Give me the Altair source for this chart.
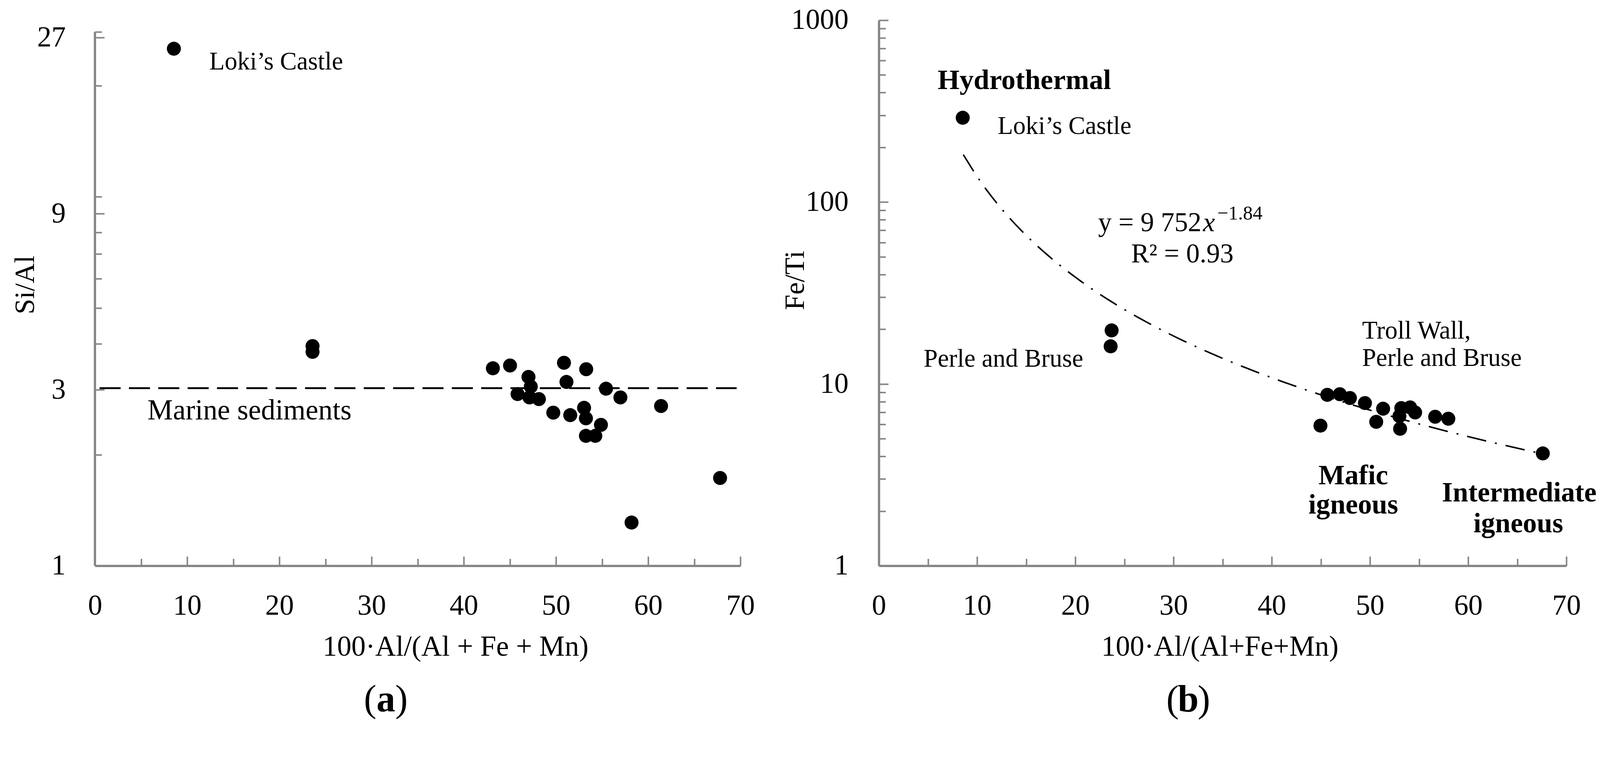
import altair as alt
import pandas as pd

FONT = "Liberation Serif"
AXIS_GREY = "#858585"

# ---- panel (a): Si/Al against 100*Al/(Al+Fe+Mn) ----
a_x = [8.56, 23.6, 23.6, 43.16, 45.02, 47.02, 47.27, 45.84, 47.13, 48.15, 50.87, 53.28,
       51.14, 55.43, 56.99, 49.71, 51.55, 53.05, 53.25, 54.88, 53.25, 54.27, 61.4, 67.8, 58.2]
a_y = [25.2, 3.94, 3.80, 3.43, 3.49, 3.25, 3.06, 2.92, 2.86, 2.83, 3.55, 3.41,
       3.15, 3.02, 2.86, 2.60, 2.56, 2.68, 2.51, 2.41, 2.25, 2.25, 2.71, 1.73, 1.31]
marine_si_al = 3.03
marine_x = [0.5, 69.6]

# ---- panel (b): Fe/Ti against 100*Al/(Al+Fe+Mn) ----
b_x = [8.54, 23.7, 23.6, 44.96, 45.66, 46.93, 47.96, 49.49, 51.34, 50.64, 53.19, 54.6,
       53.07, 53.0, 54.09, 56.64, 57.98, 67.6]
b_y = [291, 19.7, 16.1, 5.90, 8.71, 8.78, 8.37, 7.85, 7.31, 6.19, 7.37, 6.97,
       5.67, 6.65, 7.43, 6.60, 6.44, 4.15]
fit_extent = [8.6, 67.0]

# axis values
x_labels = [0, 10, 20, 30, 40, 50, 60, 70]
x_ticks = [5, 10, 15, 20, 25, 30, 35, 40, 45, 50, 55, 60, 65, 70]
a_y_labels = [1, 3, 9, 27]
a_y_ticks = [1, 2, 3, 4, 5, 6, 7, 8, 9, 10, 20, 27, 28]
a_y_top = 28
a_y_max = 30.1
b_y_labels = [1, 10, 100, 1000]
b_y_ticks = [1, 2, 3, 4, 5, 6, 7, 8, 9, 10, 20, 30, 40, 50, 60, 70, 80, 90,
             100, 200, 300, 400, 500, 600, 700, 800, 900, 1000]

# annotations
a_notes = pd.DataFrame({"x": [12.4], "y": [23.2], "t": ["Loki’s Castle"]})
a_marine_note = pd.DataFrame({"x": [5.7], "y": [2.63], "t": ["Marine sediments"]})
b_notes = pd.DataFrame({"x": [12.1, 4.56, 49.2, 49.2],
                        "y": [260.7, 13.7, 19.5, 13.8],
                        "t": ["Loki’s Castle", "Perle and Bruse", "Troll Wall,", "Perle and Bruse"]})
b_hydro = pd.DataFrame({"x": [5.98], "y": [466], "t": ["Hydrothermal"]})
b_rocks = pd.DataFrame({"x": [48.3, 48.3, 65.2, 65.1],
                        "y": [3.125, 2.154, 2.51, 1.70],
                        "t": ["Mafic", "igneous", "Intermediate", "igneous"]})
eq_pos = pd.DataFrame({"x": [33.0], "y": [76.9]})
r2_note = pd.DataFrame({"x": [30.9], "y": [51.8], "t": ["R² = 0.93"]})
a_caption = pd.DataFrame({"x": [31.55], "y": [0.433]})
b_caption = pd.DataFrame({"x": [31.5], "y": [0.182]})

W_A, W_B, H = 1715, 1827, 1450


def label_axis_x(title, title_x):
    return alt.Axis(values=x_labels, ticks=False, tickSize=0, domainColor=AXIS_GREY, domainWidth=6,
                    labelFont=FONT, labelFontSize=76, labelColor="black", labelPadding=106,
                    labelBaseline="middle", labelFlush=False, labelOverlap=False, grid=False,
                    title=title, titleFont=FONT, titleFontSize=76, titleFontWeight="normal",
                    titleColor="black", titleX=title_x, titleY=216, titleBaseline="middle")


def label_axis_y(values, title, title_x, title_y, pad, domain):
    return alt.Axis(values=values, labelExpr="'' + datum.value", ticks=False, tickSize=0,
                    domain=domain, domainColor=AXIS_GREY, domainWidth=6,
                    labelFont=FONT, labelFontSize=76, labelColor="black", labelPadding=pad,
                    labelBaseline="middle", labelFlush=False, labelOverlap=False, grid=False,
                    title=title, titleFont=FONT, titleFontSize=74, titleFontWeight="normal",
                    titleColor="black", titleX=title_x, titleY=title_y, titleAngle=270,
                    titleBaseline="middle", titleAlign="center")


def tick_axis_x():
    # ticks pointing into the plot, Excel style
    return alt.Axis(orient="top", offset=-H, values=x_ticks, labels=False, domain=False, grid=False,
                    tickColor=AXIS_GREY, tickWidth=4, title=None,
                    tickSize={"condition": {"test": "datum.value % 10 == 0", "value": 25}, "value": 19})


def tick_axis_y(width, values, majors):
    test = "indexof(" + str(majors) + ", datum.value) >= 0"
    return alt.Axis(orient="right", offset=-width, values=values, labels=False, domain=False, grid=False,
                    tickColor=AXIS_GREY, tickWidth=4, title=None,
                    tickSize={"condition": {"test": test, "value": 25}, "value": 18})


def notes(df, xs, ys, size, weight="normal", align="left", style="normal"):
    return alt.Chart(df).mark_text(font=FONT, fontSize=size, fontWeight=weight, fontStyle=style,
                                   align=align, baseline="middle", color="black").encode(
        x=alt.X("x:Q", scale=xs, axis=None),
        y=alt.Y("y:Q", scale=ys, axis=None),
        text="t:N")


def caption(df, letter, xs, ys):
    base = alt.Chart(df).encode(x=alt.X("x:Q", scale=xs, axis=None), y=alt.Y("y:Q", scale=ys, axis=None))
    return [
        base.mark_text(text="(", font=FONT, fontSize=100, align="right", baseline="middle", dx=-25, color="black"),
        base.mark_text(text=letter, font=FONT, fontSize=100, fontWeight="bold", align="center",
                       baseline="middle", color="black"),
        base.mark_text(text=")", font=FONT, fontSize=100, align="left", baseline="middle", dx=25, color="black"),
    ]


# ---------- panel (a) ----------
xs_a = alt.Scale(domain=[0, 70], nice=False, zero=False)
ys_a = alt.Scale(type="log", domain=[1, a_y_max], nice=False)
a_df = pd.DataFrame({"x": a_x, "y": a_y})

a_points = alt.Chart(a_df).mark_circle(size=1385, color="black", opacity=1).encode(
    x=alt.X("x:Q", scale=xs_a, axis=label_axis_x("100·Al/(Al + Fe + Mn)", 958)),
    y=alt.Y("y:Q", scale=ys_a, axis=label_axis_y(a_y_labels, "Si/Al", -185, 703, 78, False)))
a_tick_layer = alt.Chart(a_df).mark_point(opacity=0).encode(
    x=alt.X("x:Q", scale=xs_a, axis=tick_axis_x()),
    y=alt.Y("y:Q", scale=ys_a, axis=tick_axis_y(W_A, a_y_ticks, a_y_labels)))
a_yline = alt.Chart(pd.DataFrame({"x": [0], "y": [1], "y2": [a_y_top]})).mark_rule(
    color=AXIS_GREY, strokeWidth=6).encode(
    x=alt.X("x:Q", scale=xs_a, axis=None), y=alt.Y("y:Q", scale=ys_a, axis=None), y2="y2:Q")
a_marine = alt.Chart(pd.DataFrame({"x": [marine_x[0]], "x2": [marine_x[1]], "y": [marine_si_al]})).mark_rule(
    color="black", strokeWidth=5, strokeDash=[56, 22]).encode(
    x=alt.X("x:Q", scale=xs_a, axis=None), x2="x2:Q", y=alt.Y("y:Q", scale=ys_a, axis=None))

left = alt.layer(
    a_yline, a_marine, a_points, a_tick_layer,
    notes(a_notes, xs_a, ys_a, 67),
    notes(a_marine_note, xs_a, ys_a, 76),
    *caption(a_caption, "a", xs_a, ys_a)
).resolve_axis(x="independent", y="independent").properties(width=W_A, height=H)

# ---------- panel (b) ----------
xs_b = alt.Scale(domain=[0, 70], nice=False, zero=False)
ys_b = alt.Scale(type="log", domain=[1, 1000], nice=False)
b_df = pd.DataFrame({"x": b_x, "y": b_y})

b_points = alt.Chart(b_df).mark_circle(size=1385, color="black", opacity=1).encode(
    x=alt.X("x:Q", scale=xs_b, axis=label_axis_x("100·Al/(Al+Fe+Mn)", 906)),
    y=alt.Y("y:Q", scale=ys_b, axis=label_axis_y(b_y_labels, "Fe/Ti", -222, 691, 81, True)))
b_tick_layer = alt.Chart(b_df).mark_point(opacity=0).encode(
    x=alt.X("x:Q", scale=xs_b, axis=tick_axis_x()),
    y=alt.Y("y:Q", scale=ys_b, axis=tick_axis_y(W_B, b_y_ticks, b_y_labels)))
b_fit = alt.Chart(b_df).transform_regression(
    "x", "y", method="pow", extent=fit_extent).mark_line(
    color="black", strokeWidth=4, strokeDash=[52, 24, 5, 24]).encode(
    x=alt.X("x:Q", scale=xs_b, axis=None), y=alt.Y("y:Q", scale=ys_b, axis=None))

eq_base = alt.Chart(eq_pos).encode(x=alt.X("x:Q", scale=xs_b, axis=None), y=alt.Y("y:Q", scale=ys_b, axis=None))
b_eq = [
    eq_base.mark_text(text="y = 9 752", font=FONT, fontSize=72, align="right", baseline="middle",
                      dx=-4, color="black"),
    eq_base.mark_text(text="x", font=FONT, fontSize=72, fontStyle="italic", align="left",
                      baseline="middle", color="black"),
    eq_base.mark_text(text="−1.84", font=FONT, fontSize=52, align="left", baseline="middle",
                      dx=38, dy=-25, color="black"),
]

right = alt.layer(
    b_fit, b_points, b_tick_layer,
    notes(b_notes, xs_b, ys_b, 67),
    notes(b_hydro, xs_b, ys_b, 75, weight="bold"),
    notes(b_rocks, xs_b, ys_b, 74, weight="bold", align="center"),
    *b_eq,
    notes(r2_note, xs_b, ys_b, 72, align="center"),
    *caption(b_caption, "b", xs_b, ys_b)
).resolve_axis(x="independent", y="independent").properties(width=W_B, height=H)

chart = alt.hconcat(left, right, spacing=368, bounds="flush").configure_view(
    stroke=None).properties(padding={"left": 22, "top": -28, "right": 0, "bottom": 0})

chart.save("out.html", embed_options={"renderer": "svg", "actions": False})
